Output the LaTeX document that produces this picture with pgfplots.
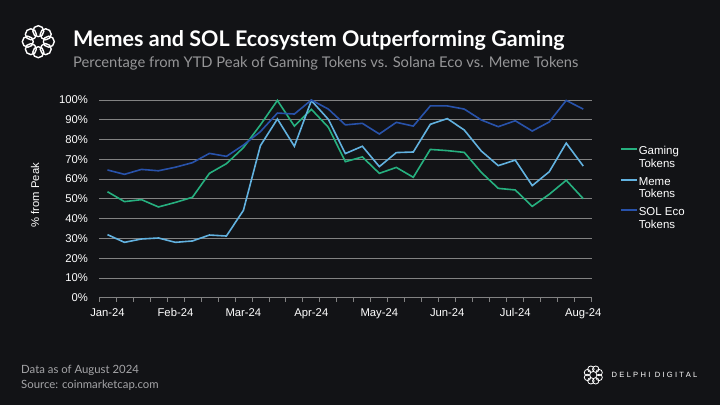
\documentclass[border=0pt]{standalone}
\usepackage{pgfplots}
\pgfplotsset{compat=1.18}
\usepackage{fontspec}
\setmainfont{Liberation Sans}
\newfontfamily\titlefont{Lato}
\newfontfamily\delphifont[LetterSpace=30]{Liberation Sans}
\definecolor{bg}{RGB}{18,19,22}
\definecolor{gridgray}{RGB}{130,130,130}
\definecolor{gaming}{RGB}{38,176,127}
\definecolor{meme}{RGB}{98,178,224}
\definecolor{sol}{RGB}{40,82,170}
\definecolor{subgray}{RGB}{150,150,152}
\definecolor{footgray}{RGB}{165,165,168}
\pgfplotstableread{
idx gaming meme sol
0 53.6 31.9 64.6
1 48.6 28.0 62.4
2 49.6 29.7 64.9
3 45.9 30.2 64.2
4 48.2 28.0 66.0
5 50.8 28.7 68.3
6 62.9 31.7 73.0
7 67.8 31.2 71.5
8 75.9 44.2 77.2
9 87.4 76.9 84.0
10 99.8 90.4 93.4
11 86.8 76.6 92.9
12 95.3 99.7 100.0
13 86.2 90.2 95.4
14 68.8 72.9 87.4
15 71.2 76.6 88.2
16 62.9 66.3 82.8
17 65.9 73.4 88.7
18 60.9 73.7 86.8
19 75.0 87.7 97.0
20 74.4 90.6 97.0
21 73.5 84.8 95.4
22 63.4 74.2 89.9
23 55.3 66.8 86.5
24 54.5 69.6 89.5
25 46.2 56.7 84.3
26 52.3 63.7 88.9
27 59.4 78.2 99.8
28 50.1 66.6 95.4
}\datatable
\begin{document}
\begin{tikzpicture}[x=1bp,y=1bp]
\useasboundingbox (0,0) rectangle (720,405);
\fill[bg] (0,0) rectangle (720,405);
\begin{axis}[
  at={(99bp,107.3bp)}, anchor=south west,
  scale only axis, width=492.7bp, height=197.7bp,
  xmin=-0.5, xmax=28.5, ymin=0, ymax=100,
  clip=false,
  axis lines*=left,
  x axis line style={gridgray, line width=0.8bp},
  y axis line style={draw=none},
  ytick={0,10,...,100},
  yticklabel={\pgfmathprintnumber{\tick}\%},
  /pgf/number format/assume math mode=true,
  ymajorgrids,
  grid style={gridgray, line width=0.8bp},
  ytick style={draw=none},
  xtick={0,4,...,28},
  xticklabels={Jan-24,Feb-24,Mar-24,Apr-24,May-24,Jun-24,Jul-24,Aug-24},
  minor xtick={-0.5,0.5,...,28.5},
  major x tick style={draw=none},
  minor x tick style={gridgray, line width=0.8bp},
  tick align=outside,
  major tick length=0pt,
  minor tick length=4bp,
  ticklabel style={text=white, font=\fontsize{11.3}{13}\selectfont},
  yticklabel style={inner sep=0pt, anchor=east, xshift=-11bp},
  xticklabel style={inner sep=0pt, anchor=base, yshift=-18.5bp},
  ylabel={\% from Peak},
  ylabel style={at={(axis description cs:-0.1299,0.519)}, anchor=center, text=white, font=\fontsize{11.3}{13}\selectfont},
  legend style={draw=none, fill=none, text=white, font=\fontsize{11.5}{12.6}\selectfont,
    at={(1.057,0.772)}, anchor=north west, inner sep=0pt, row sep=6.5bp,
    nodes={align=left, inner sep=1bp}},
  legend cell align=left,
  legend image code/.code={\draw[#1, line width=1.8bp] (0bp,8.3bp) -- (16bp,8.3bp);},
]
\addplot[gaming, line width=1.6bp] table[x=idx, y=gaming] {\datatable};
\addlegendentry{Gaming\\Tokens}
\addplot[meme, line width=1.6bp] table[x=idx, y=meme] {\datatable};
\addlegendentry{Meme\\Tokens}
\addplot[sol, line width=1.6bp] table[x=idx, y=sol] {\datatable};
\addlegendentry{SOL Eco\\Tokens}
\end{axis}
% titles
\node[anchor=base west, inner sep=0pt, text=white, font=\titlefont\bfseries\fontsize{21.6}{24}\selectfont] at (73,359) {Memes and SOL Ecosystem Outperforming Gaming};
\node[anchor=base west, inner sep=0pt, text=subgray, font=\titlefont\fontsize{14.8}{17}\selectfont] at (73,337.3) {Percentage from YTD Peak of Gaming Tokens vs. Solana Eco vs. Meme Tokens};
% footer
\node[anchor=base west, inner sep=0pt, text=footgray, font=\titlefont\fontsize{11.4}{13}\selectfont] at (21,31.5) {Data as of August 2024};
\node[anchor=base west, inner sep=0pt, text=footgray, font=\titlefont\fontsize{11.4}{13}\selectfont] at (21,16.7) {Source: coinmarketcap.com};
% logos
\foreach \a in {0,45,...,315} {
  \draw[white, line width=1.4bp] (38.3,363.3) ++(\a:10.5) circle (5.5);
}
\fill[bg] (38.3,363.3) circle (4.2);
\foreach \a in {22.5,67.5,...,337.5} {
  \draw[white, line width=0.8bp] (593.3,30) ++(\a:6.3) circle (3.2);
}
\node[anchor=base west, inner sep=0pt, text=white, font=\delphifont\fontsize{7.6}{9}\selectfont] at (611.5,27.2) {DELPHI DIGITAL};
\end{tikzpicture}
\end{document}
